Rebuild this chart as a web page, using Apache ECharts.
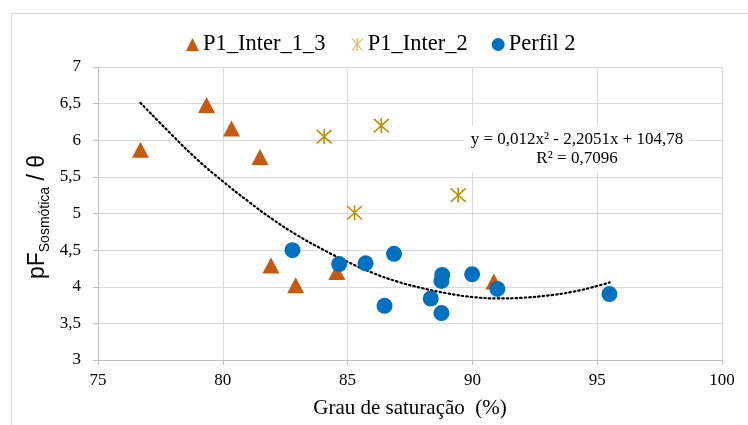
<!DOCTYPE html>
<html>
<head>
<meta charset="utf-8">
<script src="https://cdn.jsdelivr.net/npm/echarts@6/dist/echarts.min.js"></script>
<style>html,body{margin:0;padding:0;background:#fff}#c{width:748px;height:425px}</style>
</head>
<body>
<div id="c"></div>
<script>
// Data
var seriesNames = ['P1_Inter_1_3', 'P1_Inter_2', 'Perfil 2'];
var interX13 = [76.70, 79.35, 80.35, 81.49, 81.93, 82.92, 84.57, 90.86];
var interY13 = [5.87, 6.48, 6.16, 5.77, 4.29, 4.02, 4.20, 4.07];
var inter2X = [84.06, 86.35, 85.28, 89.43];
var inter2Y = [6.05, 6.20, 5.01, 5.25];
var perfilX = [82.79, 84.66, 85.72, 86.86, 86.48, 88.79, 88.76, 88.33, 88.76, 89.99, 91.00, 95.49];
var perfilY = [4.50, 4.31, 4.32, 4.45, 3.74, 4.16, 4.08, 3.84, 3.64, 4.17, 3.97, 3.90];
// Trend line (dotted)
var trendX = [76.7, 78, 79, 80, 81, 82, 83, 84, 85, 86, 87, 88, 89, 90, 91, 92, 93, 94, 95, 95.5];
var trendY = [6.51, 6.06, 5.73, 5.44, 5.17, 4.92, 4.70, 4.51, 4.34, 4.19, 4.07, 3.98, 3.91, 3.86, 3.84, 3.85, 3.88, 3.93, 4.01, 4.06];
var xTicks = {min: 75, max: 100, interval: 5};
var yTicks = {min: 3, max: 7, interval: 0.5};
var equationText = 'y = 0,012x² - 2,2051x + 104,78\nR² = 0,7096';
var xTitle = 'Grau de saturação  (%)';

function zip(a, b) { return a.map(function (v, i) { return [v, b[i]]; }); }

var serif = '"Liberation Serif", "Times New Roman", serif';
var chart = echarts.init(document.getElementById('c'));
var asterisk = 'path://M0,-10L0,10M-8,-9L8,9M-8,9L8,-9';

chart.setOption({
  animation: false,
  backgroundColor: '#fff',
  grid: {left: 98, right: 26, top: 67, bottom: 65},
  legend: {
    left: 181, top: 28,
    itemWidth: 13, itemHeight: 13, itemGap: 24,
    textStyle: {fontFamily: serif, fontSize: 22.5, color: '#000', padding: [0, 0, 0, -1]},
    data: [
      {name: seriesNames[0], icon: 'triangle', itemStyle: {color: '#C55A11'}},
      {name: seriesNames[1], icon: asterisk, itemStyle: {color: 'none', borderColor: '#E3B94B', borderWidth: 1.2}},
      {name: seriesNames[2], icon: 'circle', itemStyle: {color: '#0070C0'}}
    ]
  },
  xAxis: {
    type: 'value', min: xTicks.min, max: xTicks.max, interval: xTicks.interval,
    axisLine: {show: true, lineStyle: {color: '#bfbfbf'}},
    axisTick: {show: true, length: 5, lineStyle: {color: '#bfbfbf'}},
    axisLabel: {fontFamily: serif, fontSize: 17, color: '#000', margin: 12},
    splitLine: {show: true, lineStyle: {color: '#d9d9d9'}},
    name: xTitle, nameLocation: 'middle', nameGap: 38,
    nameTextStyle: {fontFamily: serif, fontSize: 21, color: '#000'}
  },
  yAxis: {
    type: 'value', min: yTicks.min, max: yTicks.max, interval: yTicks.interval,
    axisLine: {show: true, lineStyle: {color: '#bfbfbf'}},
    axisTick: {show: true, length: 5, lineStyle: {color: '#bfbfbf'}},
    axisLabel: {fontFamily: serif, fontSize: 17, color: '#000', margin: 17,
      formatter: function (v) { return String(v).replace('.', ','); }},
    splitLine: {show: true, lineStyle: {color: '#d9d9d9'}}
  },
  graphic: [
    {type: 'rect', left: 9, top: 11, z: -10, silent: true,
     shape: {x: 0, y: 0, width: 760, height: 430},
     style: {fill: 'none', stroke: '#d9d9d9', lineWidth: 1}},
    {type: 'text', x: 38, y: 217, rotation: Math.PI / 2, z: 10,
     style: {
       text: '{m|pF}{s|Sosmótica}{m| / θ}',
       align: 'center', verticalAlign: 'middle',
       rich: {
         m: {fontFamily: '"Liberation Sans", Arial, sans-serif', fontSize: 23, lineHeight: 23, verticalAlign: 'top', fill: '#000'},
         s: {fontFamily: '"Liberation Sans", Arial, sans-serif', fontSize: 14, lineHeight: 14, verticalAlign: 'top', padding: [12, 0, 0, 0], fill: '#000'}
       }
     }},
    {type: 'text', x: 577, y: 149, z: 10,
     style: {
       text: equationText, align: 'center', verticalAlign: 'middle',
       font: '17px ' + serif, lineHeight: 19, fill: '#000',
       backgroundColor: '#fff', padding: [4, 6, 4, 6]
     }}
  ],
  series: [
    {type: 'line', name: 'trend', data: zip(trendX, trendY), smooth: true, symbol: 'none', z: 1,
     lineStyle: {color: '#000', width: 2.2, type: [1.5, 3], cap: 'round'}, silent: true},
    {type: 'scatter', name: seriesNames[0], data: zip(interX13, interY13), symbol: 'triangle', symbolSize: [17, 16], z: 2,
     itemStyle: {color: '#C55A11', opacity: 1}},
    {type: 'scatter', name: seriesNames[1], data: zip(inter2X, inter2Y), symbol: asterisk, symbolSize: 15, z: 3,
     itemStyle: {color: 'none', borderColor: '#BF9000', borderWidth: 1.6, opacity: 1}},
    {type: 'scatter', name: seriesNames[2], data: zip(perfilX, perfilY), symbol: 'circle', symbolSize: 16, z: 4,
     itemStyle: {color: '#0070C0', opacity: 1}}
  ]
});
</script>
</body>
</html>
